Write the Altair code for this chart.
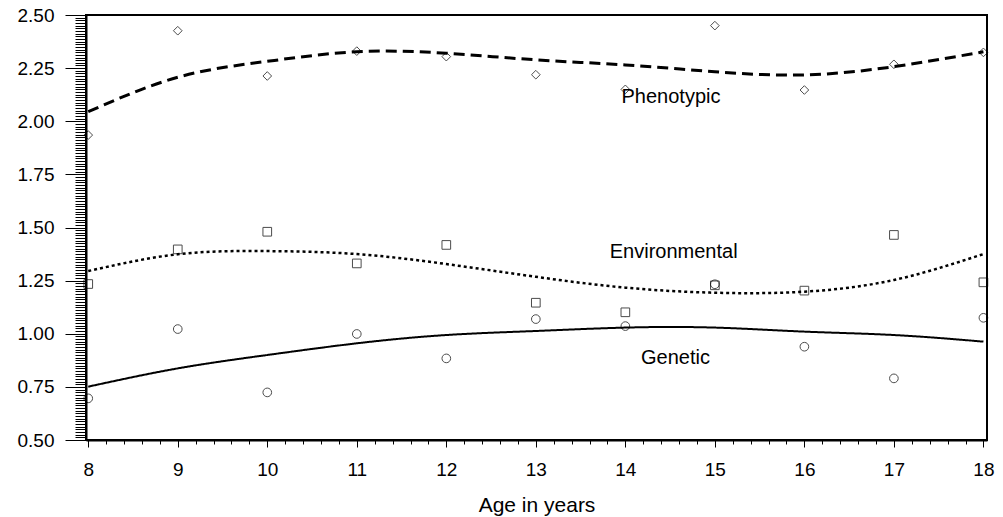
import altair as alt
import pandas as pd

ages = [8, 9, 10, 11, 12, 13, 14, 15, 16, 17, 18]
phen_obs = [1.935, 2.426, 2.213, 2.330, 2.304, 2.219, 2.150, 2.450, 2.147, 2.268, 2.324]
env_obs = [1.234, 1.397, 1.480, 1.331, 1.418, 1.146, 1.101, 1.228, 1.203, 1.465, 1.242]
gen_obs = [0.696, 1.022, 0.724, 0.999, 0.884, 1.069, 1.036, 1.233, 0.939, 0.790, 1.075]
phen_fit = [2.045, 2.207, 2.282, 2.327, 2.320, 2.289, 2.265, 2.233, 2.218, 2.257, 2.327]
env_fit = [1.295, 1.374, 1.389, 1.375, 1.328, 1.268, 1.217, 1.193, 1.198, 1.253, 1.375]
gen_fit = [0.751, 0.837, 0.900, 0.955, 0.994, 1.013, 1.029, 1.029, 1.010, 0.994, 0.963]
series = ["Phenotypic", "Environmental", "Genetic"]
label_x = [14.51, 14.54, 14.56]
label_y = [2.114, 1.385, 0.886]

y_ticks = [round(0.5 + 0.0125 * i, 4) for i in range(161)]
x_ticks = [round(8 + 0.2 * i, 2) for i in range(51)]

obs = pd.DataFrame({
    "age": ages * 3,
    "value": phen_obs + env_obs + gen_obs,
    "series": [series[0]] * 11 + [series[1]] * 11 + [series[2]] * 11,
})
fit = pd.DataFrame({
    "age": ages * 3,
    "value": phen_fit + env_fit + gen_fit,
    "series": [series[0]] * 11 + [series[1]] * 11 + [series[2]] * 11,
})
lab = pd.DataFrame({"x": label_x, "y": label_y, "text": series})

FONT = "Liberation Sans"

x_scale = alt.Scale(domain=[7.975, 18.04], nice=False, zero=False)
y_scale = alt.Scale(domain=[0.5, 2.5], nice=False, zero=False)

x_axis = alt.Axis(
    values=x_ticks,
    labelExpr="abs(datum.value - round(datum.value)) < 0.001 ? format(datum.value, 'd') : ''",
    tickSize={"condition": {"test": "abs(datum.value - round(datum.value)) < 0.001", "value": 7}, "value": 4},
    labelOverlap=False,
    labelFlush=False,
    labelPadding=13,
    labelFont=FONT,
    labelFontSize=19,
    labelColor="black",
    title="Age in years",
    titlePadding=15,
    titleFont=FONT,
    titleFontSize=21,
    titleFontWeight="normal",
    titleColor="black",
    grid=False,
    domainColor="black",
    domainWidth=2,
    tickColor="black",
    tickWidth=1,
)
y_axis = alt.Axis(
    values=y_ticks,
    labelExpr="abs(datum.value*4 - round(datum.value*4)) < 0.001 ? format(datum.value, '.2f') : ''",
    tickSize={"condition": {"test": "abs(datum.value*4 - round(datum.value*4)) < 0.001", "value": 21}, "value": 11},
    labelOverlap=False,
    labelFlush=False,
    labelPadding=11,
    labelFont=FONT,
    labelFontSize=19,
    labelColor="black",
    title=None,
    grid=False,
    domainColor="black",
    domainWidth=2,
    tickColor="black",
    tickWidth=1,
)

shape_scale = alt.Scale(domain=series, range=["diamond", "square", "circle"])
dash_scale = alt.Scale(domain=series, range=[[11, 6], [3, 3], [1, 0]])
width_scale = alt.Scale(domain=series, range=[3, 2, 1.8])

lines = alt.Chart(fit).mark_line(color="black", interpolate="natural").encode(
    x=alt.X("age:Q", scale=x_scale, axis=x_axis),
    y=alt.Y("value:Q", scale=y_scale, axis=y_axis),
    detail="series:N",
    strokeDash=alt.StrokeDash("series:N", scale=dash_scale, legend=None),
    strokeWidth=alt.StrokeWidth("series:N", scale=width_scale, legend=None),
)

points = alt.Chart(obs).mark_point(color="black", filled=False, strokeWidth=1, size=75, clip=False).encode(
    x=alt.X("age:Q", scale=x_scale, axis=x_axis),
    y=alt.Y("value:Q", scale=y_scale, axis=y_axis),
    shape=alt.Shape("series:N", scale=shape_scale, legend=None),
)

texts = alt.Chart(lab).mark_text(font=FONT, fontSize=20, color="black", align="center", baseline="middle").encode(
    x=alt.X("x:Q", scale=x_scale, axis=x_axis),
    y=alt.Y("y:Q", scale=y_scale, axis=y_axis),
    text="text:N",
)

chart = alt.layer(lines, points, texts).properties(
    width=901,
    height=425,
    autosize=alt.AutoSizeParams(type="none"),
    padding={"left": 86, "top": 15, "right": 16, "bottom": 77},
    background="white",
).configure_view(
    stroke="black", strokeWidth=2
)

chart.save("out.html", embed_options={"renderer": "svg", "actions": False})
